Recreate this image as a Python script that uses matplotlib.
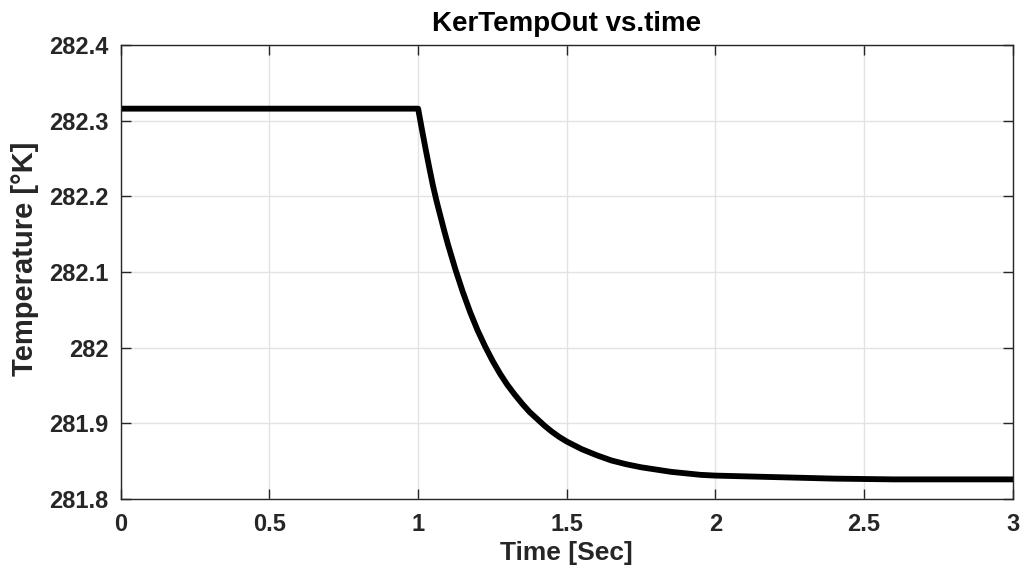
import numpy as np
import matplotlib.pyplot as plt
from matplotlib.ticker import FuncFormatter

# Values
time_s = [0.0, 1.0, 1.0125, 1.025, 1.0375, 1.05, 1.0625, 1.075, 1.0875, 1.1,
          1.125, 1.15, 1.175, 1.2, 1.225, 1.25, 1.275, 1.3, 1.325, 1.35, 1.375,
          1.4, 1.425, 1.45, 1.475, 1.5, 1.55, 1.6, 1.65, 1.7, 1.75, 1.8, 1.85,
          1.9, 1.95, 2.0, 2.1, 2.2, 2.3, 2.4, 2.6, 2.8, 3.0]
temp_k = [282.316, 282.316, 282.289, 282.263, 282.238, 282.214, 282.193, 282.174,
          282.155, 282.137, 282.104, 282.074, 282.047, 282.023, 282.002, 281.983,
          281.966, 281.951, 281.938, 281.926, 281.915, 281.906, 281.897, 281.889,
          281.882, 281.876, 281.866, 281.858, 281.851, 281.846, 281.842, 281.839,
          281.836, 281.834, 281.832, 281.831, 281.830, 281.829, 281.828, 281.827,
          281.826, 281.826, 281.826]

xticks = [0, 0.5, 1, 1.5, 2, 2.5, 3]
yticks = [281.8, 281.9, 282.0, 282.1, 282.2, 282.3, 282.4]

plt.rcParams['font.family'] = ['Liberation Sans', 'DejaVu Sans']
axis_col = '#262626'

fig = plt.figure(figsize=(10.24, 5.71), dpi=100)
ax = fig.add_axes([0.118, 0.126, 0.871, 0.795])

ax.plot(time_s, temp_k, color='black', linewidth=4.2, solid_joinstyle='round')

ax.set_xlim(0, 3)
ax.set_ylim(281.8, 282.4)
ax.set_xticks(xticks)
ax.set_yticks(yticks)
ax.xaxis.set_major_formatter(FuncFormatter(lambda v, p: '%g' % v))
ax.yaxis.set_major_formatter(FuncFormatter(lambda v, p: '%g' % round(v, 1)))

ax.grid(True, color='#e3e3e3', linewidth=1.0)
ax.set_axisbelow(True)
ax.tick_params(direction='in', length=7, width=1, colors=axis_col,
               top=True, right=True, labelsize=17)
ax.tick_params(axis='y', pad=9)
ax.tick_params(axis='x', pad=10)
for lab in ax.get_xticklabels() + ax.get_yticklabels():
    lab.set_fontweight('bold')
for sp in ax.spines.values():
    sp.set_color(axis_col)
    sp.set_linewidth(1.0)

ax.set_title('KerTempOut vs.time', fontsize=20, fontweight='bold', pad=10)
ax.set_xlabel('Time [Sec]', fontsize=19, fontweight='bold', color=axis_col, labelpad=4)
ax.set_ylabel('Temperature [°K]', fontsize=21, fontweight='bold', color=axis_col)
ax.yaxis.set_label_coords(-0.092, 0.53)

fig.savefig('out.png', dpi=100)
